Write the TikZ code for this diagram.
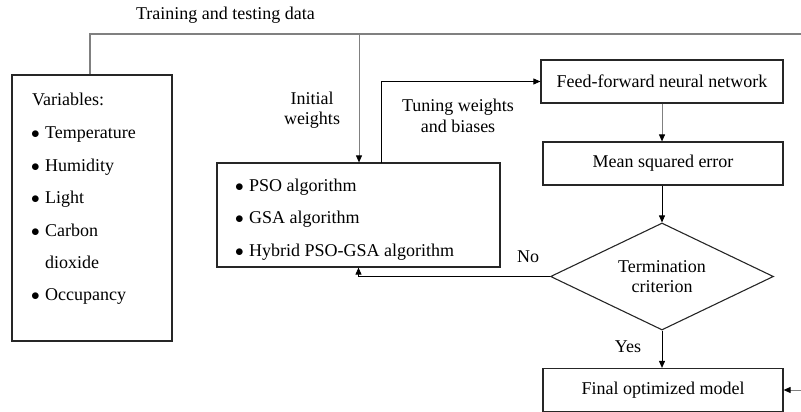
\documentclass[tikz,border=0pt]{standalone}
\usepackage{fontspec}
\setmainfont{Liberation Serif}
\usetikzlibrary{arrows.meta,shapes.geometric}
\newcommand{\itm}[1]{\makebox[14pt][l]{$\bullet$}#1}
\begin{document}
\begin{tikzpicture}[x=1pt,y=-1pt,
  txt/.style={font=\fontsize{18}{20.5}\selectfont, inner sep=0pt},
  box/.style={draw=black!85, line width=1.2pt, inner sep=0pt},
  flow/.style={line width=0.9pt, -{Triangle[length=7pt,width=6pt,black]}},
  data/.style={draw=black!50, line width=1.1pt}]
\useasboundingbox (0,0) rectangle (801,412);
\clip (0,0) rectangle (801,412);

% boxes
\node[box, minimum width=160pt, minimum height=266pt] (vars) at (92,208) {};
\node[box, minimum width=283pt, minimum height=104pt] (pso) at (358.5,215) {};
\node[box, minimum width=242pt, minimum height=43pt] (ffnn) at (662,81.5) {};
\node[box, minimum width=240pt, minimum height=43pt] (mse) at (663,163.5) {};
\node[draw=black!85, line width=1.1pt, diamond, inner sep=0pt, minimum width=223pt, minimum height=107pt] (diam) at (662,276.5) {};
\node[box, minimum width=240pt, minimum height=43pt] (final) at (663,390) {};

% texts
\node[txt] (title) at (225.5,15) {Training and testing data};
\node[txt, anchor=base west] (vhead) at (32,106) {Variables:};
\node[txt, anchor=base west] (v1) at (31,139) {\itm{Temperature}};
\node[txt, anchor=base west] (v2) at (31,171) {\itm{Humidity}};
\node[txt, anchor=base west] (v3) at (31,203.5) {\itm{Light}};
\node[txt, anchor=base west] (v4) at (31,236) {\itm{Carbon}};
\node[txt, anchor=base west] (v5) at (45,268) {dioxide};
\node[txt, anchor=base west] (v6) at (31,300.5) {\itm{Occupancy}};
\node[txt, anchor=base west] (p1) at (235,191.5) {\itm{PSO algorithm}};
\node[txt, anchor=base west] (p2) at (235,223.5) {\itm{GSA algorithm}};
\node[txt, anchor=base west] (p3) at (235,256) {\itm{Hybrid PSO-GSA algorithm}};
\node[txt] (ffnnT) at (ffnn) {Feed-forward neural network};
\node[txt] (mseT) at (mse) {Mean squared error};
\node[txt, align=center] (diamT) at (diam) {Termination\\criterion};
\node[txt] (finalT) at (final) {Final optimized model};
\node[txt, align=center] (initT) at (312,110) {Initial\\weights};
\node[txt, align=center] (tuneT) at (458,116) {Tuning weights\\and biases};
\node[txt] (noT) at (528,257) {No};
\node[txt] (yesT) at (628,347) {Yes};

% connectors
\coordinate (dataTop) at (90,34);
\coordinate (dataRight) at (806,34);
\coordinate (wIn) at (359,34);
\coordinate (tuneFoot) at (381,163);
\draw[data] (vars.north -| dataTop) -- (dataTop) -- (dataRight);
\draw[data, flow] (dataRight) -- (dataRight |- final.east) -- (final.east);
\draw[data, flow] (wIn) -- (wIn |- pso.north);
\draw[flow] (tuneFoot) |- (ffnn.west);
\draw[data, flow] (ffnn.south) -- (ffnn.south |- mse.north);
\draw[flow] (mse.south -| diam.north) -- (diam.north);
\draw[flow] (diam.west) -| (pso.south);
\draw[flow] (diam.south) -- (diam.south |- final.north);
\end{tikzpicture}
\end{document}
